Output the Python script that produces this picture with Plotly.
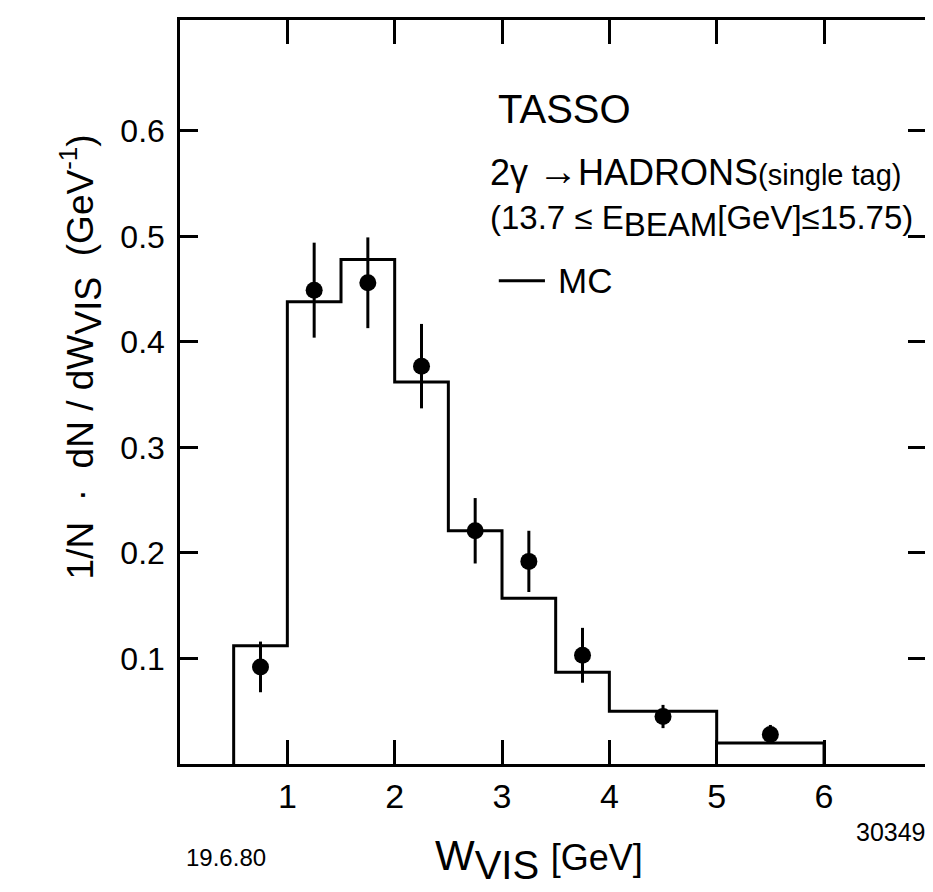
import plotly.graph_objects as go

# MC histogram (bin edges in GeV, normalised values)
bin_edges = [0.5, 1.0, 1.5, 2.0, 2.5, 3.0, 3.5, 4.0, 5.0, 6.0]
mc_values = [0.112, 0.438, 0.478, 0.362, 0.221, 0.157, 0.087, 0.050, 0.020]

# TASSO data points
data_w = [0.75, 1.25, 1.75, 2.25, 2.75, 3.25, 3.75, 4.5, 5.5]
data_y = [0.092, 0.449, 0.456, 0.377, 0.221, 0.192, 0.103, 0.045, 0.028]
data_err = [0.024, 0.045, 0.043, 0.040, 0.031, 0.029, 0.026, 0.011, 0.009]

x_ticks = [1, 2, 3, 4, 5, 6]
y_ticks = [0.1, 0.2, 0.3, 0.4, 0.5, 0.6]
y_tick_text = ["0.1", "0.2", "0.3", "0.4", "0.5", "0.6"]

FONT = "Liberation Sans"
INK = "#000000"

# closed step outline: up at first edge, down at last edge
step_x = [bin_edges[0]] + bin_edges
step_y = [0] + mc_values + [0]

fig = go.Figure()
fig.add_trace(
    go.Scatter(
        x=step_x,
        y=step_y,
        mode="lines",
        line={"shape": "hv", "color": INK, "width": 3},
        hoverinfo="skip",
        showlegend=False,
    )
)
fig.add_trace(
    go.Scatter(
        x=data_w,
        y=data_y,
        mode="markers",
        marker={"size": 17, "color": INK, "symbol": "circle"},
        error_y={"type": "data", "array": data_err, "color": INK,
                 "thickness": 3, "width": 0},
        showlegend=False,
    )
)

# text block in the upper right
fig.add_annotation(x=2.94, y=0.621, xref="x", yref="y", xanchor="left",
                   text="TASSO", showarrow=False,
                   font={"family": FONT, "size": 40, "color": INK})
fig.add_annotation(
    x=2.87, y=0.562, xref="x", yref="y", xanchor="left", showarrow=False,
    text=("2γ <span style='font-size:40px'>→</span>HADRONS"
          "<span style='font-size:29px'>(single tag)</span>"),
    font={"family": FONT, "size": 36, "color": INK},
)
fig.add_annotation(
    x=2.87, y=0.515, xref="x", yref="y", xanchor="left", showarrow=False,
    text=("(13.7 ≤ E<sub><span style='font-size:33px'>BEAM</span></sub>"
          "[GeV]≤15.75)"),
    font={"family": FONT, "size": 33, "color": INK},
)
fig.add_shape(type="line", x0=2.97, x1=3.40, y0=0.458, y1=0.458,
              xref="x", yref="y", line={"color": INK, "width": 3})
fig.add_annotation(x=3.50, y=0.458, xref="x", yref="y", xanchor="left",
                   text="MC", showarrow=False,
                   font={"family": FONT, "size": 35, "color": INK})

# axis titles and corner labels
fig.add_annotation(
    x=0.339, y=-0.129, xref="paper", yref="paper", xanchor="left", yanchor="middle",
    text=("W<sub><span style='font-size:40px'>VIS</span></sub>"
          " <span style='font-size:36px'>[GeV]</span>"),
    showarrow=False, font={"family": FONT, "size": 42, "color": INK},
)
fig.add_annotation(
    x=-0.171, y=0.547, xref="paper", yref="paper", textangle=-90, showarrow=False,
    text=("1/N  ·  dN / dW<sub><span style='font-size:36px'>VIS</span></sub>"
          "  (GeV<sup>-1</sup>)"),
    font={"family": FONT, "size": 37, "color": INK},
)
fig.add_annotation(x=0.005, y=-0.146, xref="paper", yref="paper", xanchor="left",
                   text="19.6.80", showarrow=False,
                   font={"family": FONT, "size": 24, "color": INK})
fig.add_annotation(x=1.003, y=-0.113, xref="paper", yref="paper", xanchor="right",
                   text="30349", showarrow=False,
                   font={"family": FONT, "size": 25, "color": INK})

axis_common = {
    "showline": True,
    "linecolor": INK,
    "linewidth": 2.5,
    "mirror": "ticks",
    "ticks": "inside",
    "tickcolor": INK,
    "tickwidth": 2.5,
    "showgrid": False,
    "zeroline": False,
}
fig.update_xaxes(range=[0, 6.95], tickvals=x_ticks, ticklen=24,
                 tickfont={"family": FONT, "size": 34, "color": INK},
                 **axis_common)
fig.update_yaxes(range=[0, 0.705], tickvals=y_ticks, ticktext=y_tick_text,
                 ticklen=18, ticklabelstandoff=6,
                 tickfont={"family": FONT, "size": 32, "color": INK},
                 **axis_common)

# page body adds an 8 px offset, so the figure is sized a little under the window
fig.update_layout(
    width=925,
    height=884,
    margin={"l": 172, "r": 4, "t": 12, "b": 128},
    paper_bgcolor="#ffffff",
    plot_bgcolor="#ffffff",
    showlegend=False,
)

fig.write_html("out.html")
